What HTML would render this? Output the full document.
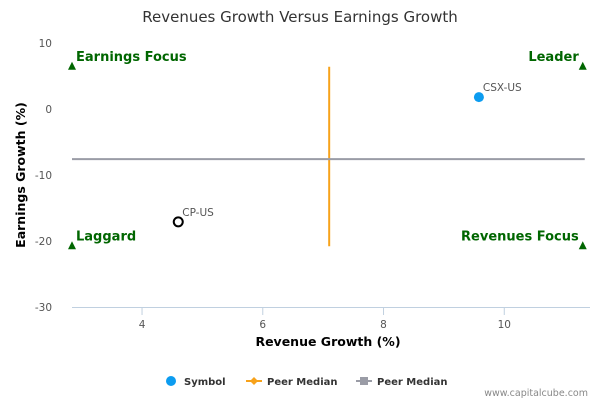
<!DOCTYPE html>
<html><head><meta charset="utf-8"><style>
body{margin:0;background:#fff;font-family:"DejaVu Sans",sans-serif}
</style></head><body>
<svg width="600" height="400" font-family="DejaVu Sans, sans-serif">
<text x="300" y="22" text-anchor="middle" font-size="15" fill="#333">Revenues Growth Versus Earnings Growth</text>
<g id="grid"></g>
<g id="marks"></g>
<text x="328" y="346" text-anchor="middle" font-size="12.5" font-weight="bold" fill="#000">Revenue Growth (%)</text>
<text transform="translate(25,175) rotate(-90)" text-anchor="middle" font-size="12.5" font-weight="bold" fill="#000">Earnings Growth (%)</text>
<g font-size="10" font-weight="bold" fill="#333">
<g><circle cx="171" cy="381" r="5" fill="#0c9cf0"/><text x="184" y="385">Symbol</text></g>
<g><line x1="246" y1="381" x2="262" y2="381" stroke="#f7a21b" stroke-width="2"/><path d="M254 377 L258 381 L254 385 L250 381Z" fill="#f7a21b"/><text x="267" y="385">Peer Median</text></g>
<g><line x1="356" y1="381" x2="372" y2="381" stroke="#9a9ca6" stroke-width="2"/><rect x="360" y="377" width="8" height="8" fill="#9a9ca6"/><text x="377" y="385">Peer Median</text></g>
</g>
<text x="588" y="396" text-anchor="end" font-size="9.5" fill="#888">www.capitalcube.com</text>
</svg>
<script>
const xTicks=[4,6,8,10];
const yTicks=[10,0,-10,-20,-30];
const symbols=["CSX-US","CP-US"];
const symX=[9.58,4.6];
const symY=[1.8,-17.1];
const peerMedianX=[7.1];
const peerMedianY=[-7.6];
const quadLabels=["Earnings Focus","Leader","Laggard","Revenues Focus"];
const xMin=2.84,xMax=11.42,yMin=-30,yMax=10;
const L=72,R=590,T=43,B=307;
const sx=v=>L+(v-xMin)/(xMax-xMin)*(R-L);
const sy=v=>B-(v-yMin)/(yMax-yMin)*(B-T);
const NS="http://www.w3.org/2000/svg";
function mk(p,t,a){const e=document.createElementNS(NS,t);for(const k in a)e.setAttribute(k,a[k]);p.appendChild(e);return e;}
const g=document.getElementById('grid'),m=document.getElementById('marks');
let ax=mk(g,'line',{x1:L,y1:B+0.5,x2:R,y2:B+0.5,stroke:'#c0d0e0'});


xTicks.forEach(v=>{
 const tk=mk(g,'line',{x1:sx(v),y1:B,x2:sx(v),y2:B+8,stroke:'#c0d0e0'});
 
 
 const t=mk(g,'text',{x:sx(v),y:B+21,'text-anchor':'middle','font-size':10.5,fill:'#555'});t.textContent=v;
 
 
});
yTicks.forEach(v=>{
 const t=mk(g,'text',{x:52,y:sy(v)+4,'text-anchor':'end','font-size':10.5,fill:'#555'});t.textContent=v;
 
 
});
const yTop=6.4,yBot=-20.8,xLeft=xMin,xRight=11.3;
let vl=mk(m,'line',{x1:sx(peerMedianX[0]),y1:sy(yTop),x2:sx(peerMedianX[0]),y2:sy(yBot),stroke:'#f7a21b','stroke-width':2});


let hl=mk(m,'line',{x1:sx(xLeft),y1:sy(peerMedianY[0]),x2:sx(xRight)+2,y2:sy(peerMedianY[0]),stroke:'#9a9ca6','stroke-width':2});


const qx=[xLeft,xRight,xLeft,xRight],qy=[yTop,yTop,yBot,yBot];
quadLabels.forEach((s,i)=>{
 const x=sx(qx[i]),y=sy(qy[i]);
 const tr=mk(m,'path',{d:`M${x} ${y-5} L${x+4} ${y+3} L${x-4} ${y+3}Z`,fill:'#006600'});
 
 
 const left=i%2==0;
 const t=mk(m,'text',{x:left?x+4:x-4,y:y-6,'text-anchor':left?'start':'end','font-size':13,'font-weight':'bold',fill:'#006600'});t.textContent=s;
 
 
});
symbols.forEach((s,i)=>{
 const c=mk(m,'circle',i==0?{cx:sx(symX[i]),cy:sy(symY[i]),r:5,fill:'#0c9cf0'}:{cx:sx(symX[i]),cy:sy(symY[i]),r:4.5,fill:'#fff',stroke:'#000','stroke-width':2});
 
 
 const t=mk(m,'text',{x:sx(symX[i])+4,y:sy(symY[i])-6,'font-size':10.5,fill:'#555'});t.textContent=s;
 
 
});
</script>
</body></html>
